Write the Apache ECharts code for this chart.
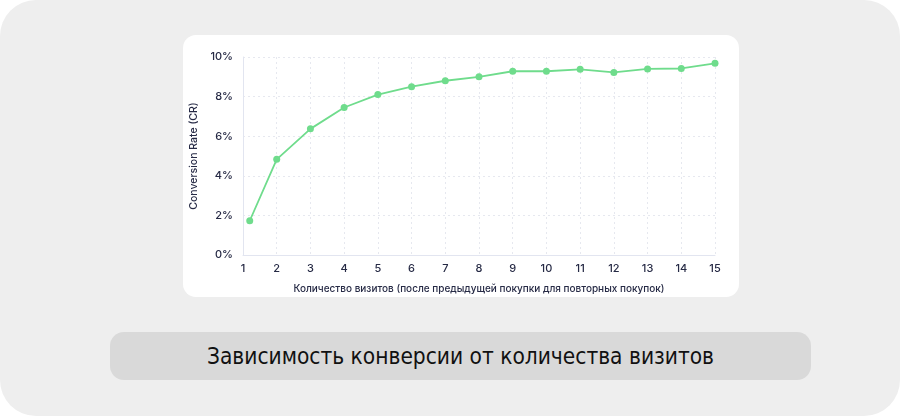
<!DOCTYPE html>
<html>
<head>
<meta charset="utf-8">
<script src="https://cdn.jsdelivr.net/npm/echarts@6/dist/echarts.min.js"></script>
<style>
html,body{margin:0;padding:0;background:#ffffff;}
#bg{position:absolute;left:0;top:0;width:900px;height:416px;background:#eeeeee;border-radius:36px;}
#card{position:absolute;left:183px;top:35px;width:556px;height:262px;background:#ffffff;border-radius:13px;}
#cap{position:absolute;left:110px;top:332px;width:701px;height:48px;background:#d9d9d9;border-radius:14px;
 font-family:"DejaVu Sans Condensed","DejaVu Sans",sans-serif;font-size:22.5px;color:#111;line-height:48px;text-align:center;}
#chart{position:absolute;left:0;top:0;width:900px;height:416px;}
</style>
</head>
<body>
<div id="bg"></div>
<div id="card"></div>
<div id="cap">Зависимость конверсии от количества визитов</div>
<div id="chart"></div>
<script>
const visits = [1.2, 2, 3, 4, 5, 6, 7, 8, 9, 10, 11, 12, 13, 14, 15];
const conversionRate = [1.73, 4.83, 6.37, 7.45, 8.1, 8.5, 8.8, 9.0, 9.28, 9.28, 9.38, 9.22, 9.4, 9.42, 9.68];
const xAxisName = 'Количество визитов (после предыдущей покупки для повторных покупок)';
const yAxisName = 'Conversion Rate (CR)';

const chart = echarts.init(document.getElementById('chart'), null, {renderer:'canvas'});
const labelColor = '#262a45';
const font = 'Inter, "Noto Sans", sans-serif';
chart.setOption({
  backgroundColor: 'transparent',
  animation: false,
  grid: {left: 243, right: 185, top: 57, bottom: 161},
  xAxis: {
    type: 'value', min: 1, max: 15, interval: 1,
    name: xAxisName, nameLocation: 'middle', nameGap: 29,
    nameTextStyle: {color: labelColor, fontSize: 10, fontFamily: font, fontWeight: 500},
    axisLine: {show: true, lineStyle: {color: '#e2e5f0', width: 1}},
    axisTick: {show: false},
    axisLabel: {color: labelColor, fontSize: 11, fontFamily: font, fontWeight: 500, margin: 8},
    splitLine: {show: true, lineStyle: {color: '#e6e8ef', type: [2, 3], width: 1}}
  },
  yAxis: {
    type: 'value', min: 0, max: 10, interval: 2,
    name: yAxisName, nameLocation: 'middle', nameGap: 40,
    nameTextStyle: {color: labelColor, fontSize: 10.5, fontFamily: font, fontWeight: 500},
    axisLine: {show: true, lineStyle: {color: '#e2e5f0', width: 1}},
    axisTick: {show: false},
    axisLabel: {color: labelColor, fontSize: 11, fontFamily: font, fontWeight: 500, margin: 10, formatter: '{value}%'},
    splitLine: {show: true, lineStyle: {color: '#e6e8ef', type: [2, 3], width: 1}}
  },
  series: [{
    type: 'line',
    data: visits.map((v, i) => [v, conversionRate[i]]),
    symbol: 'circle', symbolSize: 7,
    lineStyle: {color: '#6fdc8c', width: 1.8},
    itemStyle: {color: '#6fdc8c'}
  }]
});
</script>
</body>
</html>
